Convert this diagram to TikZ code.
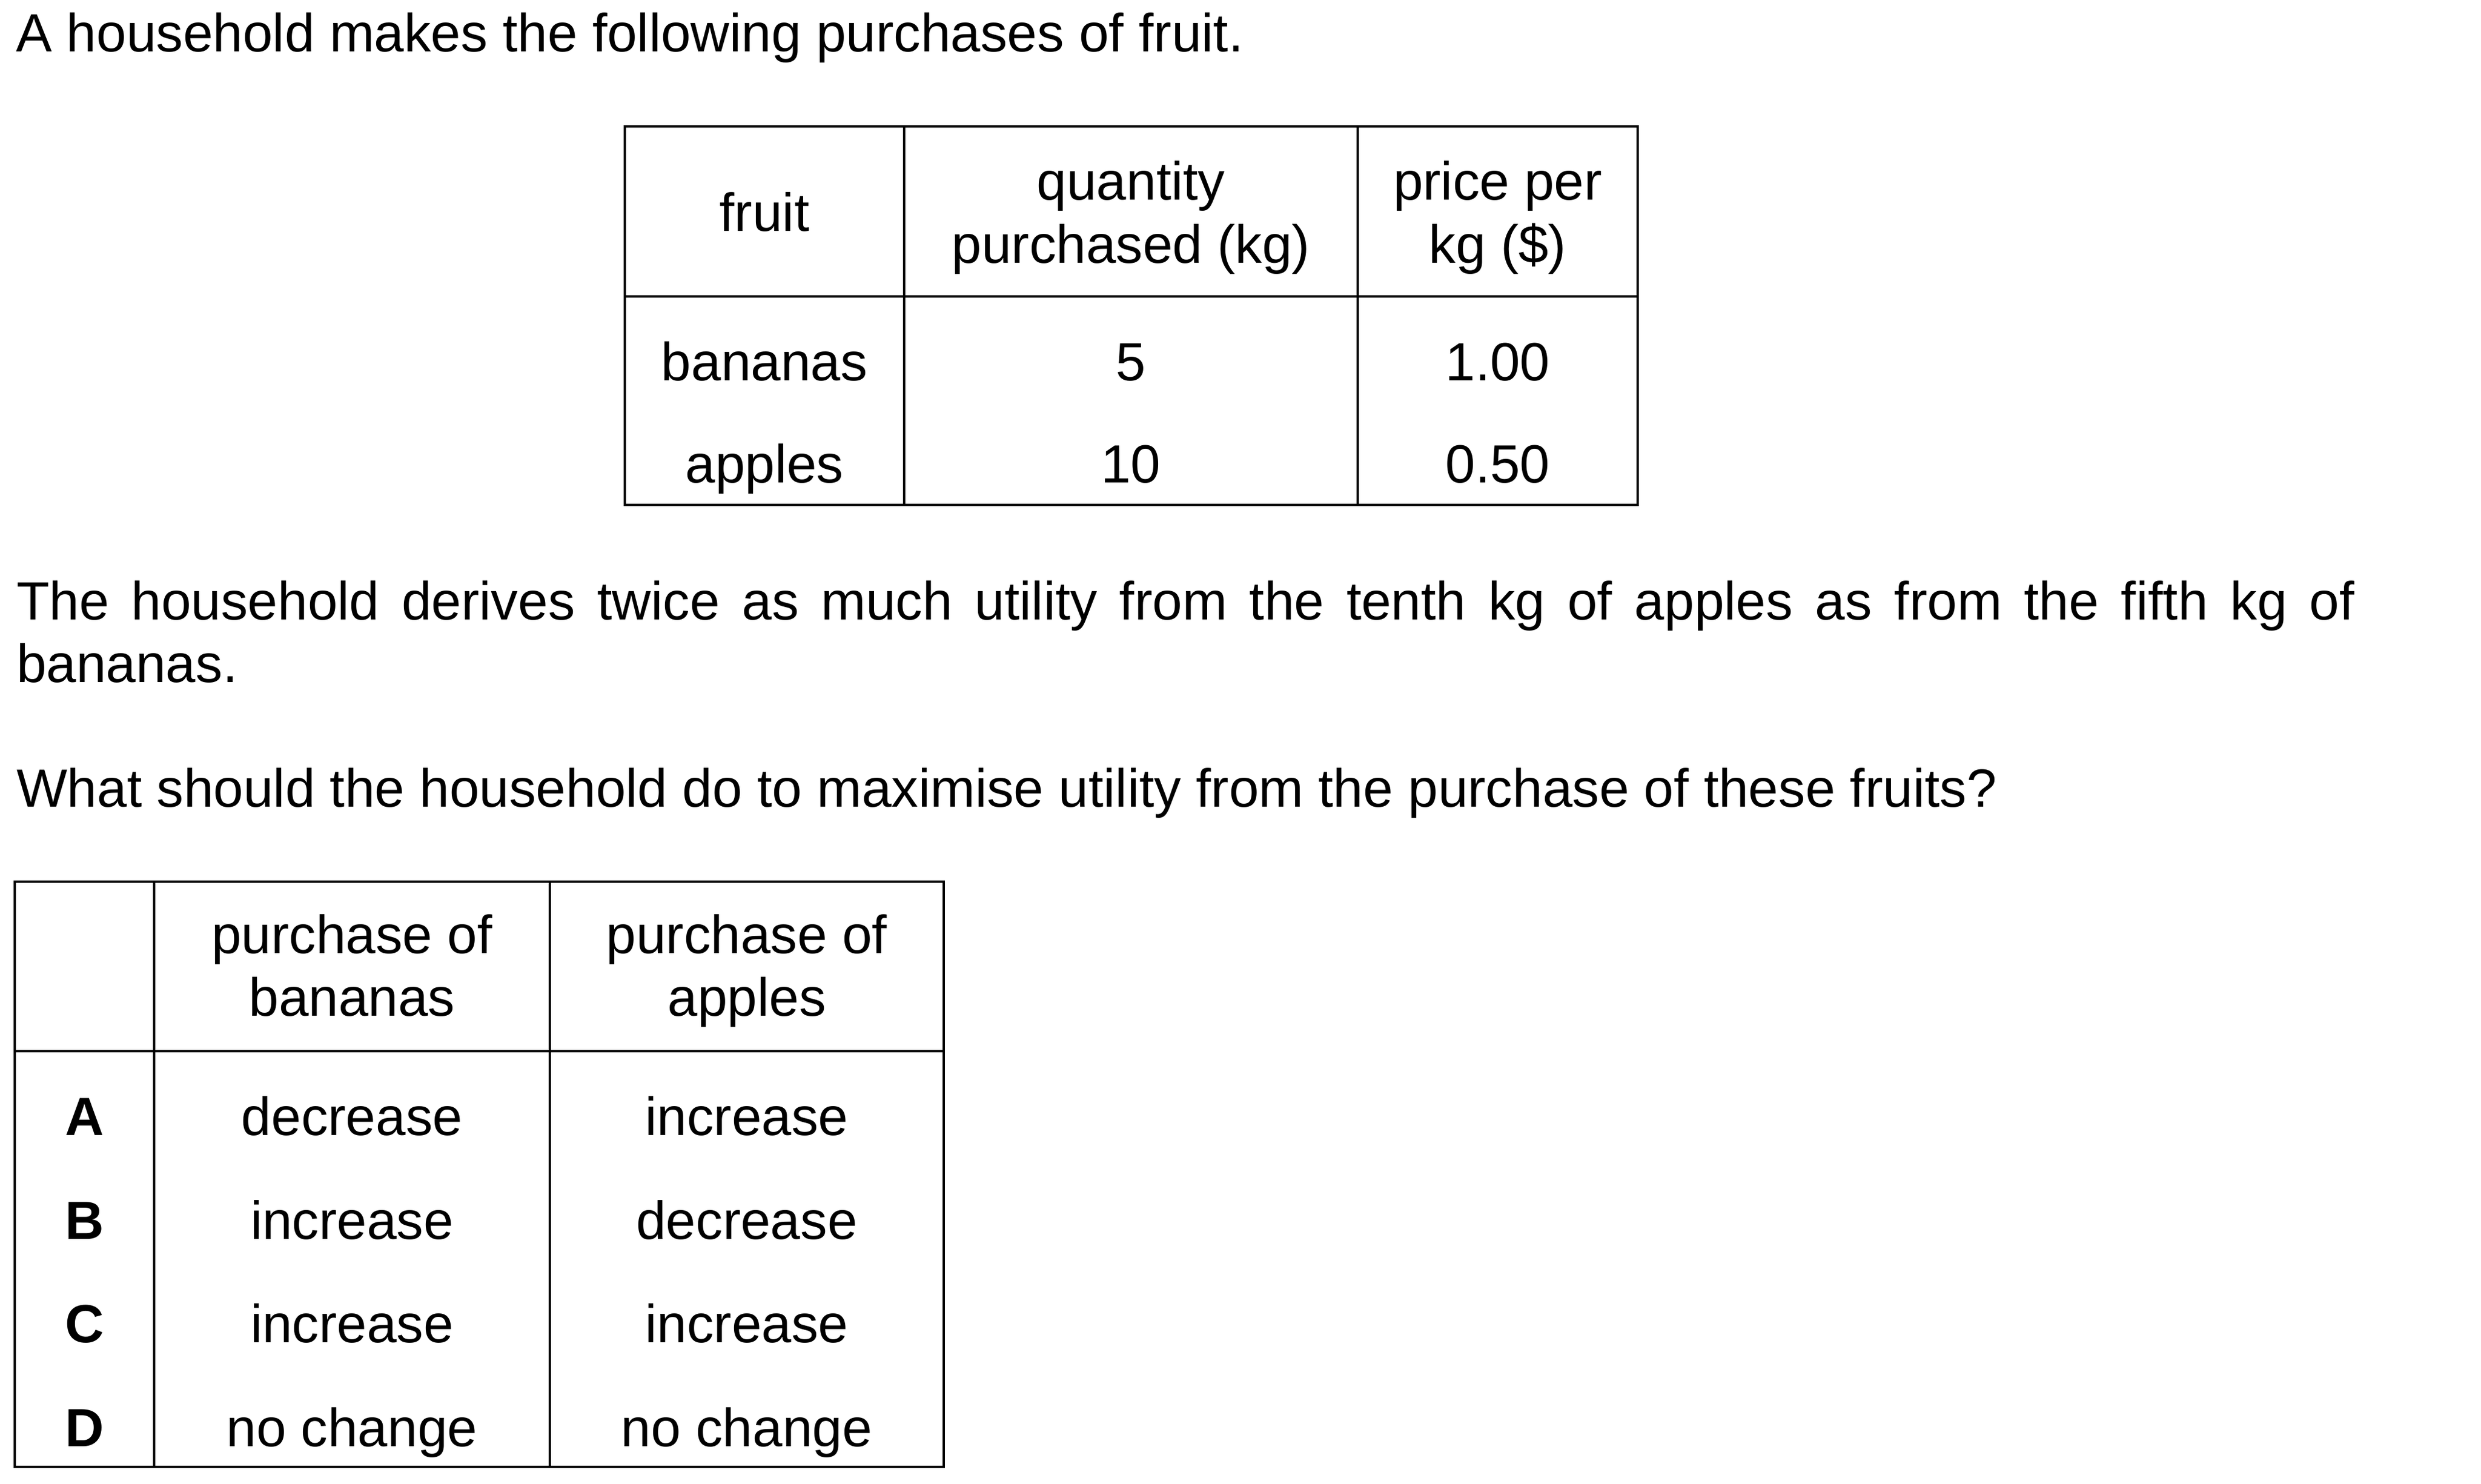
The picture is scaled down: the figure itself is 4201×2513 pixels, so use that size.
\documentclass[tikz,border=0pt]{standalone}
\usepackage{fontspec}
\setmainfont{Liberation Sans}
\tikzset{
  txt/.style={inner sep=0pt, outer sep=0pt, anchor=base, font=\fontsize{12}{14.1}\selectfont},
  ltxt/.style={txt, anchor=base west},
  lettr/.style={txt, font=\fontsize{12}{14.1}\selectfont\bfseries},
  rule/.style={line width=0.55pt, line join=miter}
}
\begin{document}
\begin{tikzpicture}[x=0.13188pt, y=-0.13188pt]
\useasboundingbox (0,0) rectangle (4201,2513);

% intro line
\node[ltxt] (intro) at (27,88) {A household makes the following purchases of fruit.};

% ---- top table ----
\draw[rule] (1058,214) rectangle (2773,855);
\draw[rule] (1058,502) -- (2773,502);
\draw[rule] (1531,214) -- (1531,855);
\draw[rule] (2299,214) -- (2299,855);

\node[txt] (hfruit) at (1294.5,392) {fruit};
\node[txt] (hqty1) at (1915,339) {quantity};
\node[txt] (hqty2) at (1915,446) {purchased (kg)};
\node[txt] (hpr1) at (2536,339) {price per};
\node[txt] (hpr2) at (2536,446) {kg (\$)};

\node[txt] (fban) at (1294.5,645) {bananas};
\node[txt] (qban) at (1915,645) {5};
\node[txt] (pban) at (2536,645) {1.00};
\node[txt] (fapp) at (1294.5,818) {apples};
\node[txt] (qapp) at (1915,818) {10};
\node[txt] (papp) at (2536,818) {0.50};

% ---- paragraph ----
\node[ltxt] (para1) at (28,1050) {\makebox[522.1pt][s]{The household derives twice as much utility from the tenth kg of apples as from the fifth kg of}};
\node[ltxt] (para2) at (28,1156) {bananas.};
\node[ltxt] (quest) at (28,1366) {What should the household do to maximise utility from the purchase of these fruits?};

% ---- bottom table ----
\draw[rule] (25,1493) rectangle (1598,2484);
\draw[rule] (25,1780) -- (1598,1780);
\draw[rule] (261,1493) -- (261,2484);
\draw[rule] (931,1493) -- (931,2484);

\node[txt] (hb1) at (596,1614.5) {purchase of};
\node[txt] (hb2) at (596,1720.5) {bananas};
\node[txt] (ha1) at (1264.5,1614.5) {purchase of};
\node[txt] (ha2) at (1264.5,1720.5) {apples};

\node[lettr] (oA) at (143,1922.5) {A};
\node[txt] (bA) at (596,1922.5) {decrease};
\node[txt] (aA) at (1264.5,1922.5) {increase};

\node[lettr] (oB) at (143,2098) {B};
\node[txt] (bB) at (596,2098) {increase};
\node[txt] (aB) at (1264.5,2098) {decrease};

\node[lettr] (oC) at (143,2273.5) {C};
\node[txt] (bC) at (596,2273.5) {increase};
\node[txt] (aC) at (1264.5,2273.5) {increase};

\node[lettr] (oD) at (143,2449) {D};
\node[txt] (bD) at (596,2449) {no change};
\node[txt] (aD) at (1264.5,2449) {no change};
\end{tikzpicture}
\end{document}
